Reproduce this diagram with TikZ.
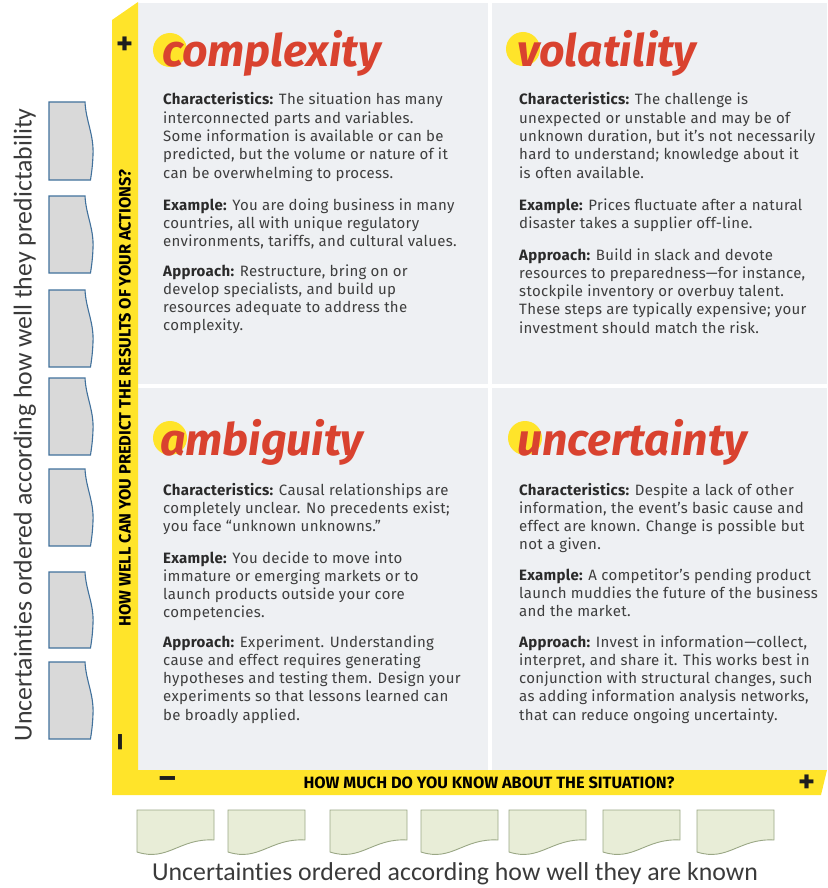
\documentclass[tikz,border=0pt]{standalone}
\usepackage{fontspec}
\usepackage{graphicx}
\setmainfont[LetterSpace=2]{Fira Sans}
\newfontfamily\titlefont{Fira Sans}
\newfontfamily\sidefont[Ligatures=NoCommon]{Carlito}
\newfontfamily\barfont{Fira Sans}
\definecolor{barYellow}{HTML}{FFE42A}
\definecolor{panelGray}{HTML}{EEF0F3}
\definecolor{titleRed}{HTML}{D9422F}
\definecolor{bodyTxt}{HTML}{3E3E3E}
\definecolor{labelTxt}{HTML}{2A2A2A}
\definecolor{sideTxt}{HTML}{3A3A3A}
\definecolor{docGray}{HTML}{D9D9D9}
\definecolor{docBlue}{HTML}{41719C}
\definecolor{docGreen}{HTML}{E8EDD7}
\definecolor{docGreenLine}{HTML}{9AA785}
\definecolor{signBlack}{HTML}{1E1E1E}
\newcommand\blines[1]{\vtop{\baselineskip=18.3pt\lineskiplimit=-20pt\lineskip=0pt #1}}
\newcommand\lbl[1]{{\bfseries\color{labelTxt}#1}}
\tikzset{
  body/.style={anchor=base west, inner sep=0pt, font=\fontsize{15}{18.3}\selectfont, text=bodyTxt},
  qtitle/.style={anchor=base west, inner sep=0pt, font=\titlefont\bfseries\itshape\fontsize{44.6}{44.6}\selectfont, text=titleRed},
  sidelabel/.style={inner sep=0pt, font=\sidefont\fontsize{25.8}{25.8}\selectfont, text=sideTxt},
  sign/.style={inner sep=0pt, font=\barfont\bfseries\fontsize{32}{32}\selectfont, text=signBlack},
  vdoc/.style={fill=docGray, draw=docBlue, line width=1.1pt},
  hdoc/.style={fill=docGreen, draw=docGreenLine, line width=0.9pt}
}
\begin{document}
\begin{tikzpicture}[x=1pt,y=-1pt]
\useasboundingbox (0,0) rectangle (827,888);
% panels
\fill[panelGray] (138,3) rectangle (488,384);
\fill[panelGray] (492,3) rectangle (827,384);
\fill[panelGray] (138,388) rectangle (488,770);
\fill[panelGray] (492,388) rectangle (827,770);
% yellow L bar
\fill[barYellow] (112,20) -- (138,2) -- (138,770) -- (827,770) -- (821,795) -- (112,795) -- cycle;
% signs
\node[sign] (plusY) at (125,46) {+};
\node[sign, rotate=90] (minusY) at (125,742) {\textendash};
\node[sign] (minusX) at (168,783) {\textendash};
\node[sign] (plusX) at (807,784) {+};
% bar labels
\node[rotate=90, inner sep=0pt] (ybar) at (125,398)
  {\resizebox{457pt}{!}{\barfont\bfseries\fontsize{10}{10}\selectfont HOW WELL CAN YOU PREDICT THE RESULTS OF YOUR ACTIONS?}};
\node[inner sep=0pt] (xbar) at (489,783)
  {\resizebox{371pt}{!}{\barfont\bfseries\fontsize{10}{10}\selectfont HOW MUCH DO YOU KNOW ABOUT THE SITUATION?}};
% title circles
\fill[barYellow] (170,50) circle (17);
\fill[barYellow] (523,49) circle (17);
\fill[barYellow] (170,438) circle (17);
\fill[barYellow] (525,438) circle (17);
% titles
\node[qtitle] (tComplex) at (162,67) {complexity};
\node[qtitle] (tVolat) at (517,67) {volatility};
\node[qtitle] (tAmbig) at (160,455) {ambiguity};
\node[qtitle] (tUncert) at (517,455) {uncertainty};
% top-left
\node[body] (tlC) at (163,105) {\blines{%
  \hbox{\lbl{Characteristics:} The situation has many}
  \hbox{interconnected parts and variables.}
  \hbox{Some information is available or can be}
  \hbox{predicted, but the volume or nature of it}
  \hbox{can be overwhelming to process.}}};
\node[body] (tlE) at (163,210) {\blines{%
  \hbox{\lbl{Example:} You are doing business in many}
  \hbox{countries, all with unique regulatory}
  \hbox{environments, tariffs, and cultural values.}}};
\node[body] (tlA) at (163,276) {\blines{%
  \hbox{\lbl{Approach:} Restructure, bring on or}
  \hbox{develop specialists, and build up}
  \hbox{resources adequate to address the}
  \hbox{complexity.}}};
% top-right
\node[body] (trC) at (519,105) {\blines{%
  \hbox{\lbl{Characteristics:} The challenge is}
  \hbox{unexpected or unstable and may be of}
  \hbox{unknown duration, but it’s not necessarily}
  \hbox{hard to understand; knowledge about it}
  \hbox{is often available.}}};
\node[body] (trE) at (519,210) {\blines{%
  \hbox{\lbl{Example:} Prices fluctuate after a natural}
  \hbox{disaster takes a supplier off-line.}}};
\node[body] (trA) at (519,260) {\blines{%
  \hbox{\lbl{Approach:} Build in slack and devote}
  \hbox{resources to preparedness—for instance,}
  \hbox{stockpile inventory or overbuy talent.}
  \hbox{These steps are typically expensive; your}
  \hbox{investment should match the risk.}}};
% bottom-left
\node[body] (blC) at (163,495) {\blines{%
  \hbox{\lbl{Characteristics:} Causal relationships are}
  \hbox{completely unclear. No precedents exist;}
  \hbox{you face “unknown unknowns.”}}};
\node[body] (blE) at (163,563) {\blines{%
  \hbox{\lbl{Example:} You decide to move into}
  \hbox{immature or emerging markets or to}
  \hbox{launch products outside your core}
  \hbox{competencies.}}};
\node[body] (blA) at (163,647) {\blines{%
  \hbox{\lbl{Approach:} Experiment. Understanding}
  \hbox{cause and effect requires generating}
  \hbox{hypotheses and testing them. Design your}
  \hbox{experiments so that lessons learned can}
  \hbox{be broadly applied.}}};
% bottom-right
\node[body] (brC) at (519,495) {\blines{%
  \hbox{\lbl{Characteristics:} Despite a lack of other}
  \hbox{information, the event’s basic cause and}
  \hbox{effect are known. Change is possible but}
  \hbox{not a given.}}};
\node[body] (brE) at (519,580) {\blines{%
  \hbox{\lbl{Example:} A competitor’s pending product}
  \hbox{launch muddies the future of the business}
  \hbox{and the market.}}};
\node[body] (brA) at (519,647) {\blines{%
  \hbox{\lbl{Approach:} Invest in information—collect,}
  \hbox{interpret, and share it. This works best in}
  \hbox{conjunction with structural changes, such}
  \hbox{as adding information analysis networks,}
  \hbox{that can reduce ongoing uncertainty.}}};
% left documents (vertical)
\foreach \t/\b in {102/180,196/273,290/367,378/455,469/546,572/648,662/739}{
  \pgfmathsetmacro\h{\b-\t}
  \draw[vdoc] (49,\t) -- (85,\t) .. controls (86,\t+0.25*\h) and (94,\t+0.42*\h) .. (93,\t+0.68*\h)
     .. controls (92.5,\t+0.85*\h) and (91,\t+0.95*\h) .. (90.5,\b) -- (49,\b) -- cycle;
}
% bottom documents (horizontal)
\foreach \l/\r in {137/214,228/305,330/407,421/498,509/586,603/680,697/774}{
  \pgfmathsetmacro\w{\r-\l}
  \draw[hdoc] (\l,810) -- (\r,810) -- (\r,840) .. controls (\l+0.55*\w,838) and (\l+0.4*\w,862) .. (\l,852) -- cycle;
}
% axis captions
\node[sidelabel, rotate=90] (ylab) at (25,425) {Uncertainties ordered according how well they predictability};
\node[sidelabel] (xlab) at (455,874) {Uncertainties ordered according how well they are known};
\end{tikzpicture}
\end{document}
